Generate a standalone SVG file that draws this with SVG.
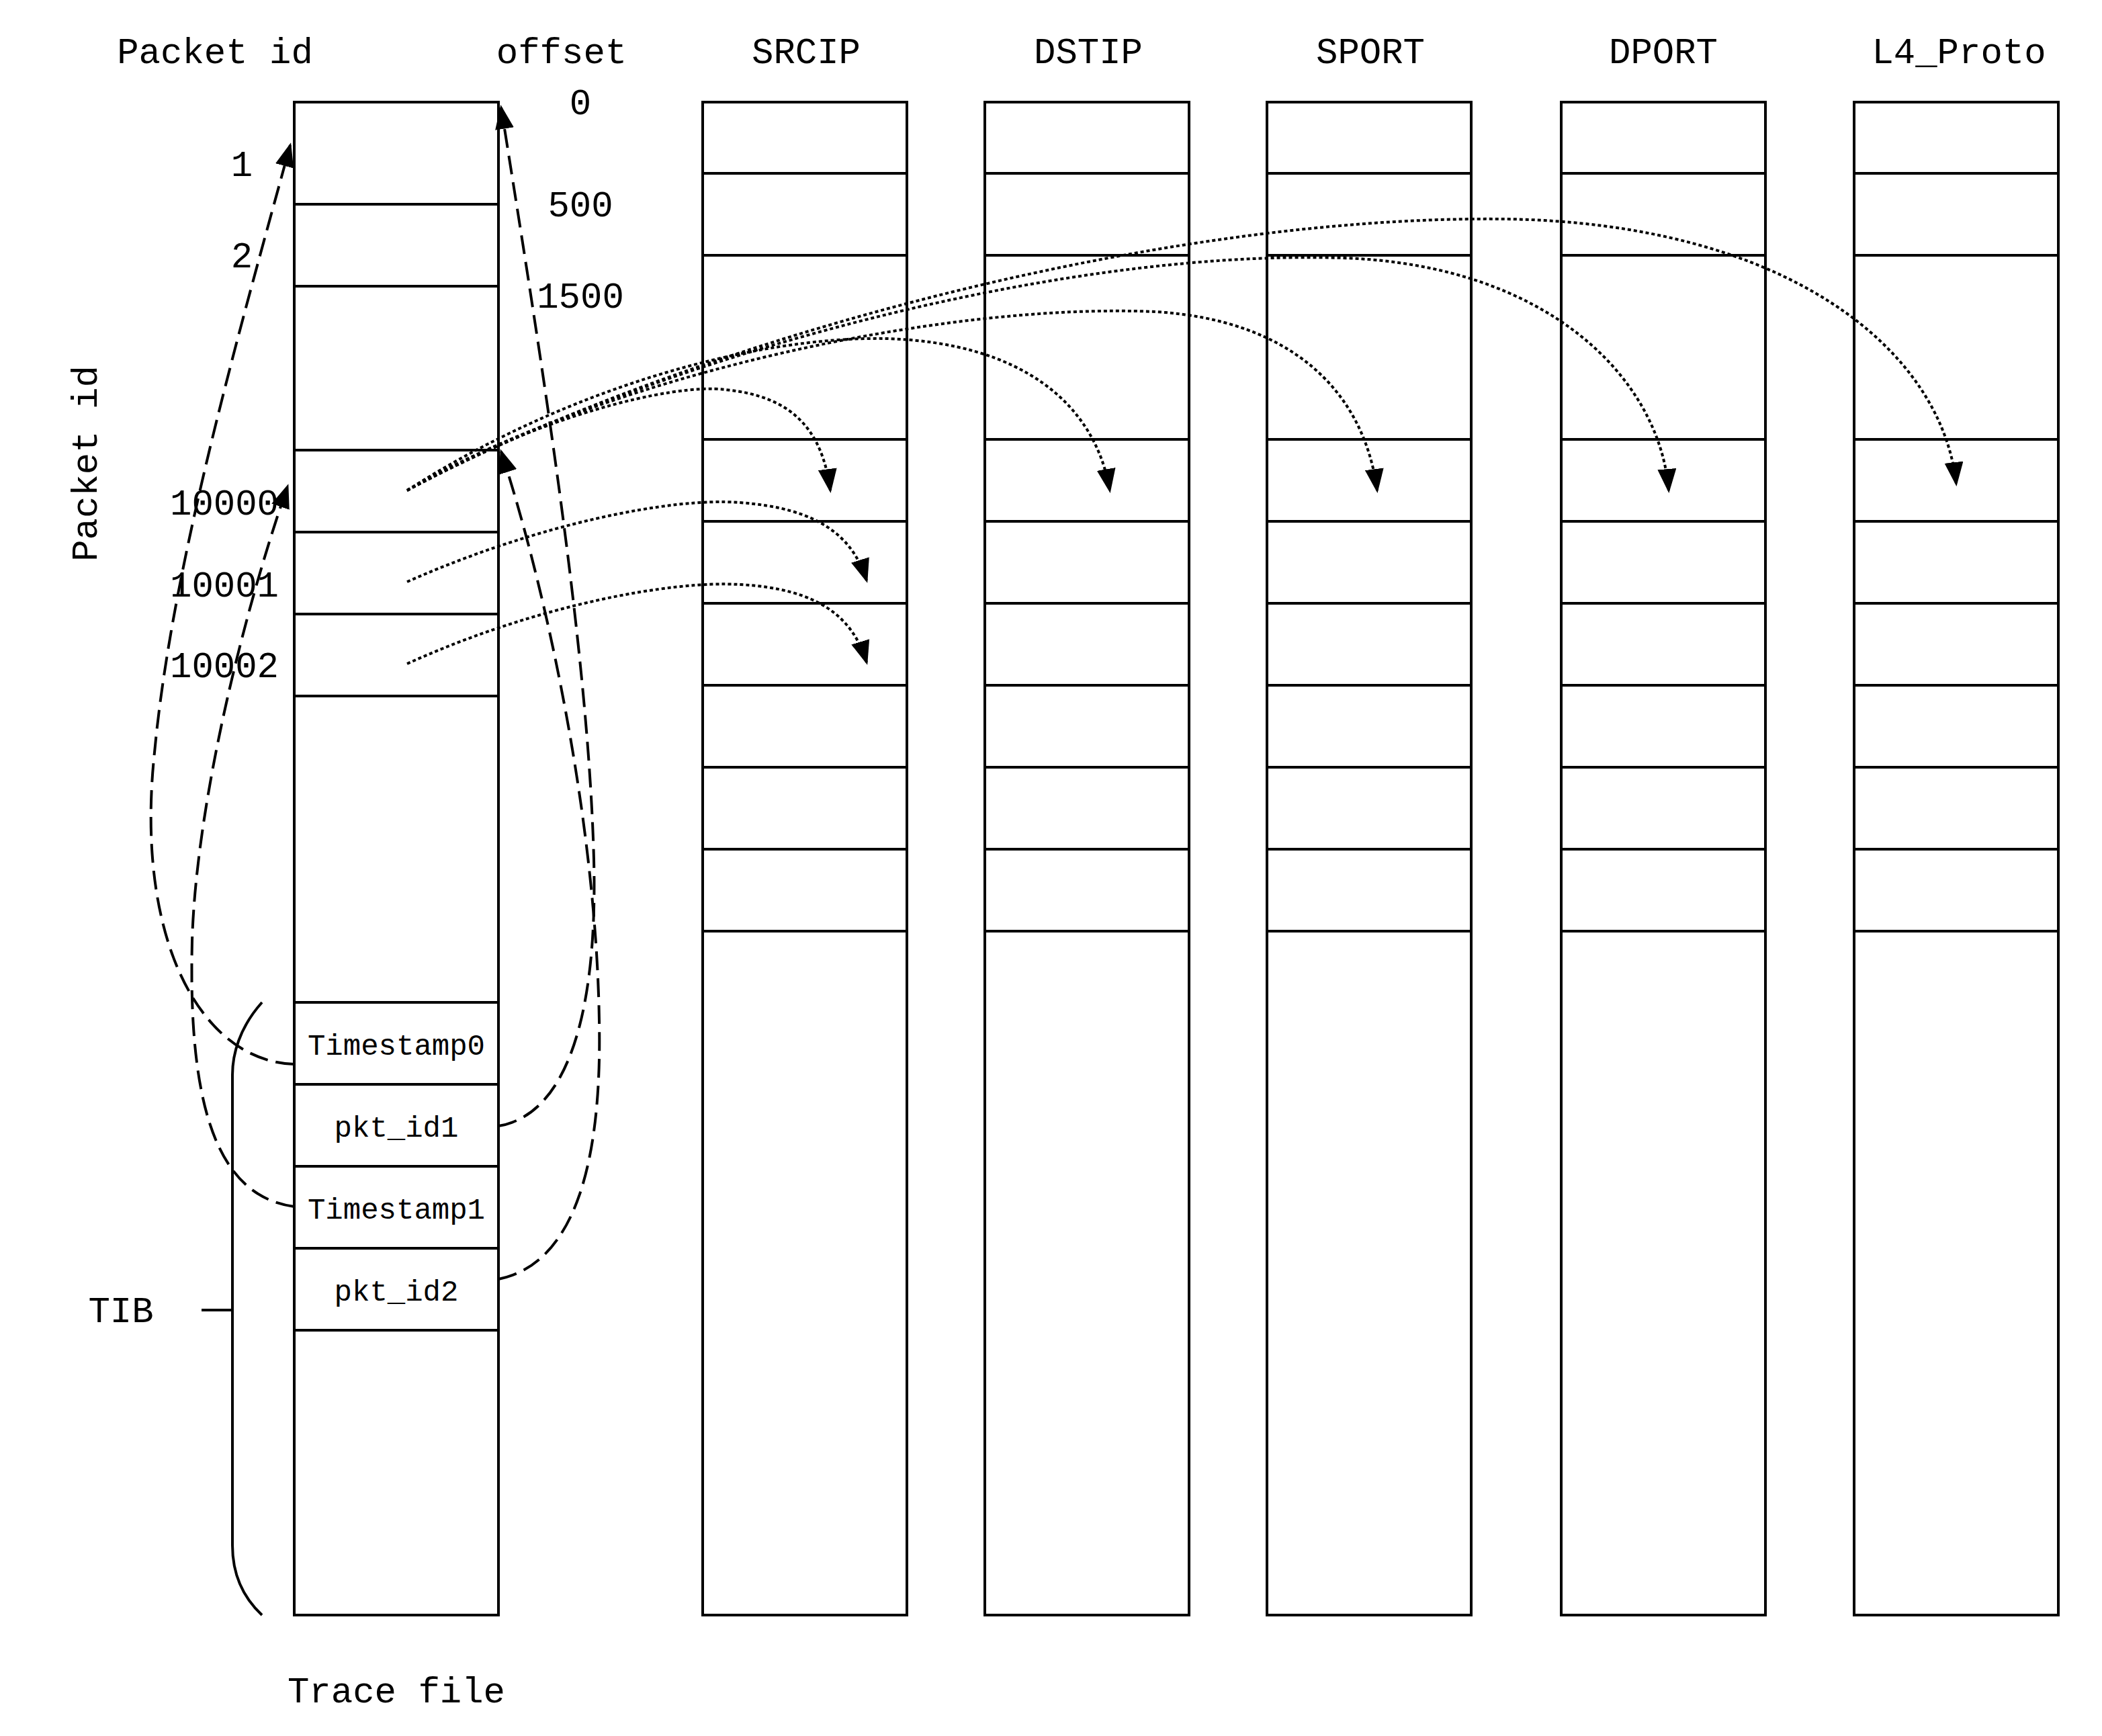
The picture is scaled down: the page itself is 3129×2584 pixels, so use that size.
<svg xmlns="http://www.w3.org/2000/svg" width="3129" height="2584" viewBox="0 0 3129 2584">
<style>
.b{fill:none;stroke:#000;stroke-width:2}
.d{fill:none;stroke:#000;stroke-width:2;stroke-dasharray:14,6}
.o{fill:none;stroke:#000;stroke-width:2;stroke-dasharray:2.5,2}
text{font-family:"Liberation Mono",monospace;fill:#000;text-anchor:middle}
.t{font-size:27px}
.s{font-size:22px}
</style>
<defs>
<marker id="a" markerUnits="userSpaceOnUse" markerWidth="18" markerHeight="14" refX="16" refY="7" orient="auto" viewBox="0 0 18 14"><path d="M0,0 L18,7 L0,14 Z" fill="#000"/></marker>
</defs>
<rect width="3129" height="2584" fill="#fff"/>
<g transform="scale(2)">
<g id="trace">
<rect class="b" x="219" y="76" width="152" height="1126"/>
<path class="b" d="M219,152H371M219,213H371M219,335H371M219,396H371M219,457H371M219,518H371M219,746H371M219,807H371M219,868H371M219,929H371M219,990H371"/>
<text class="s" x="295" y="785">Timestamp0</text>
<text class="s" x="295" y="846">pkt_id1</text>
<text class="s" x="295" y="907">Timestamp1</text>
<text class="s" x="295" y="968">pkt_id2</text>
<text class="t" x="295" y="1267">Trace file</text>
</g>
<g id="srcip"><rect class="b" x="523" y="76" width="152" height="1126"/><path class="b" d="M523,129H675M523,190H675M523,327H675M523,388H675M523,449H675M523,510H675M523,571H675M523,632H675M523,693H675"/></g>
<g id="dstip"><rect class="b" x="733" y="76" width="152" height="1126"/><path class="b" d="M733,129H885M733,190H885M733,327H885M733,388H885M733,449H885M733,510H885M733,571H885M733,632H885M733,693H885"/></g>
<g id="sport"><rect class="b" x="943" y="76" width="152" height="1126"/><path class="b" d="M943,129H1095M943,190H1095M943,327H1095M943,388H1095M943,449H1095M943,510H1095M943,571H1095M943,632H1095M943,693H1095"/></g>
<g id="dport"><rect class="b" x="1162" y="76" width="152" height="1126"/><path class="b" d="M1162,129H1314M1162,190H1314M1162,327H1314M1162,388H1314M1162,449H1314M1162,510H1314M1162,571H1314M1162,632H1314M1162,693H1314"/></g>
<g id="l4"><rect class="b" x="1380" y="76" width="152" height="1126"/><path class="b" d="M1380,129H1532M1380,190H1532M1380,327H1532M1380,388H1532M1380,449H1532M1380,510H1532M1380,571H1532M1380,632H1532M1380,693H1532"/></g>
<g id="labels">
<text class="t" x="160" y="47">Packet id</text>
<text class="t" x="418" y="47">offset</text>
<text class="t" x="600" y="47">SRCIP</text>
<text class="t" x="810" y="47">DSTIP</text>
<text class="t" x="1020" y="47">SPORT</text>
<text class="t" x="1238" y="47">DPORT</text>
<text class="t" x="1458" y="47">L4_Proto</text>
<text class="t" x="432" y="85">0</text>
<text class="t" x="432" y="161">500</text>
<text class="t" x="432" y="229">1500</text>
<text class="t" x="180" y="131">1</text>
<text class="t" x="180" y="199">2</text>
<text class="t" x="167" y="383">10000</text>
<text class="t" x="167" y="444">10001</text>
<text class="t" x="167" y="504">10002</text>
<text class="t" x="0" y="0" transform="translate(72,345) rotate(-90)">Packet id</text>
<text class="t" x="90" y="984">TIB</text>
</g>
<g id="brace"><path class="b" d="M195,746 C178,765 173,785 173,800 V1150 C173,1170 180,1188 195,1202 M150,975 H173"/></g>
<g id="connectors">
<path class="d" marker-end="url(#a)" d="M219,792 C150,790 100,700 115,560 C128,420 180,240 216,108"/>
<path class="d" marker-end="url(#a)" d="M219,898 C160,890 140,820 143,700 C146,600 180,460 214,362"/>
<path class="d" marker-end="url(#a)" d="M371,838 C420,830 445,760 442,640 C438,480 400,250 373,80"/>
<path class="d" marker-end="url(#a)" d="M371,952 C430,940 448,860 446,760 C444,620 410,450 373,336"/>
<path class="o" marker-end="url(#a)" d="M303,365 C400,310 500,285 540,290 C590,295 612,320 618,365"/>
<path class="o" marker-end="url(#a)" d="M303,365 C420,290 560,250 660,252 C760,255 815,300 826,365"/>
<path class="o" marker-end="url(#a)" d="M303,365 C450,280 700,225 860,232 C960,238 1015,290 1025,365"/>
<path class="o" marker-end="url(#a)" d="M303,365 C480,270 780,185 1000,192 C1150,197 1235,280 1242,365"/>
<path class="o" marker-end="url(#a)" d="M303,365 C500,260 850,160 1120,163 C1330,166 1445,260 1456,360"/>
<path class="o" marker-end="url(#a)" d="M303,433 C400,390 500,370 550,374 C610,378 635,400 645,432"/>
<path class="o" marker-end="url(#a)" d="M303,494 C400,450 500,432 550,435 C610,438 635,460 645,493"/>
</g>
</g>
</svg>
